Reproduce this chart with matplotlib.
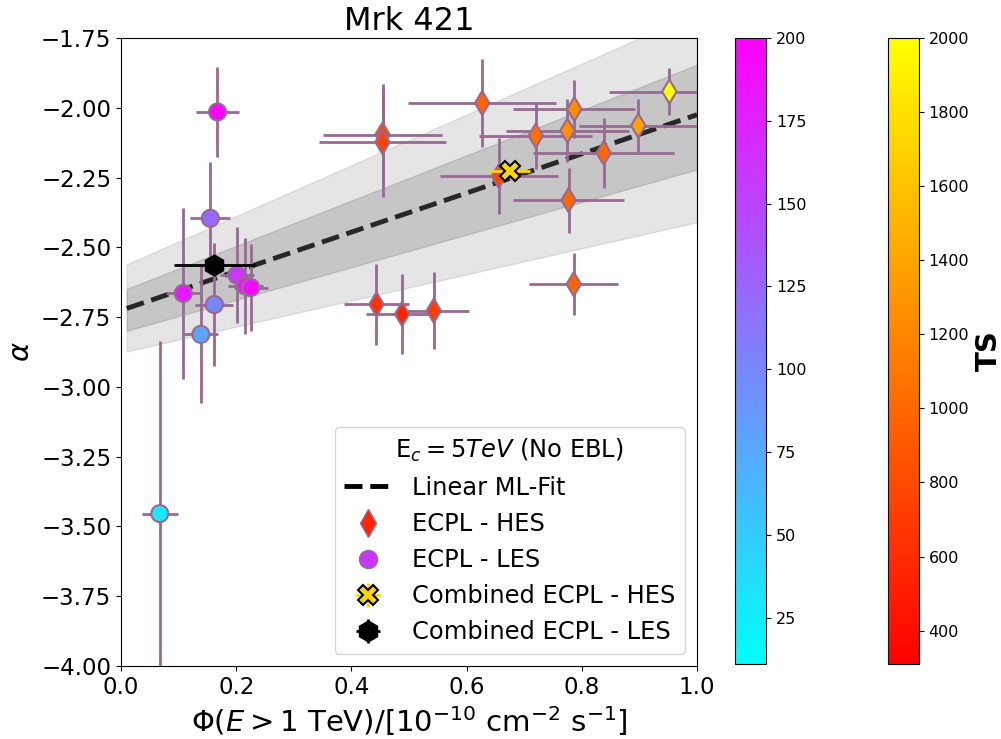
import numpy as np
import matplotlib
matplotlib.use("Agg")
import matplotlib.pyplot as plt
from matplotlib.colors import Normalize
from matplotlib.lines import Line2D

# high energy selection (ECPL - HES)
hes_flux = [0.488, 0.4435, 0.543, 0.454, 0.454, 0.627, 0.787, 0.952, 0.898, 0.775, 0.720, 0.838, 0.656, 0.777, 0.786]
hes_flux_err = [0.063, 0.057, 0.061, 0.104, 0.110, 0.128, 0.106, 0.104, 0.103, 0.107, 0.098, 0.122, 0.103, 0.096, 0.077]
hes_alpha = [-2.739, -2.704, -2.727, -2.096, -2.123, -1.983, -2.005, -1.942, -2.064, -2.082, -2.100, -2.162, -2.245, -2.331, -2.632]
hes_alpha_err = [0.142, 0.146, 0.138, 0.180, 0.195, 0.158, 0.105, 0.084, 0.094, 0.114, 0.118, 0.125, 0.137, 0.116, 0.110]
hes_ts = [560, 640, 700, 760, 740, 970, 1230, 2000, 1380, 1250, 1050, 1000, 780, 1000, 980]

# low energy selection (ECPL - LES)
les_flux = [0.201, 0.1675, 0.155, 0.2157, 0.2255, 0.108, 0.162, 0.1386, 0.0673]
les_flux_err = [0.030, 0.037, 0.035, 0.030, 0.030, 0.030, 0.033, 0.030, 0.031]
les_alpha = [-2.599, -2.015, -2.396, -2.638, -2.644, -2.665, -2.705, -2.812, -3.454]
les_alpha_err = [0.172, 0.162, 0.200, 0.172, 0.155, 0.305, 0.220, 0.246, 0.620]
les_ts = [160, 198, 122, 182, 192, 182, 100, 78, 30]

# combined fits: flux, alpha, flux err, alpha err
comb_hes = (0.675, -2.225, 0.035, 0.02)
comb_les = (0.162, -2.564, 0.070, 0.02)

# linear ML fit and its 1/2 sigma bands
fit_x = [0.01, 1.0]
fit_y = [-2.719, -2.025]
band1_lo = [-2.799, -2.221]
band1_hi = [-2.649, -1.846]
band2_lo = [-2.873, -2.410]
band2_hi = [-2.561, -1.660]

err_col = "#976a93"

fig = plt.figure(figsize=(10.01, 7.39), dpi=100)
ax = fig.add_axes([0.1209, 0.0988, 0.5754, 0.8498])
cax1 = fig.add_axes([0.7343, 0.1015, 0.0313, 0.8471])
cax2 = fig.add_axes([0.8868, 0.1015, 0.0313, 0.8471])

ax.fill_between(fit_x, band2_lo, band2_hi, color="grey", alpha=0.2)
ax.fill_between(fit_x, band1_lo, band1_hi, color="grey", alpha=0.3)
ax.plot(fit_x, fit_y, "--", color="k", alpha=0.8, lw=3.5)

norm_hes = Normalize(310, 2000)
norm_les = Normalize(11, 200)

ax.errorbar(les_flux, les_alpha, xerr=les_flux_err, yerr=les_alpha_err, fmt="none",
            ecolor=err_col, elinewidth=2, zorder=3)
sc_les = ax.scatter(les_flux, les_alpha, c=les_ts, cmap="cool", norm=norm_les, marker="o",
                    s=150, edgecolors=err_col, linewidths=1.5, zorder=4)

ax.errorbar(hes_flux, hes_alpha, xerr=hes_flux_err, yerr=hes_alpha_err, fmt="none",
            ecolor=err_col, elinewidth=2, zorder=3)
sc_hes = ax.scatter(hes_flux, hes_alpha, c=hes_ts, cmap="autumn", norm=norm_hes, marker="d",
                    s=150, edgecolors=err_col, linewidths=1.5, zorder=4)

ax.errorbar(comb_hes[0], comb_hes[1], xerr=comb_hes[2], yerr=comb_hes[3], fmt="X",
            color="gold", mec="k", mew=1.5, ms=15, ecolor="gold", elinewidth=2, zorder=5)
ax.errorbar(comb_les[0], comb_les[1], xerr=comb_les[2], yerr=comb_les[3], fmt="h",
            color="k", mec="k", ms=15, ecolor="k", elinewidth=2, zorder=5)

ax.set_xlim(0.0, 1.0)
ax.set_ylim(-4.0, -1.75)
ax.set_yticks(np.arange(-4.0, -1.74, 0.25))
ax.tick_params(labelsize=16.5)
ax.set_xlabel(r"$\Phi(E > 1$ TeV$)/[10^{-10}$ cm$^{-2}$ s$^{-1}]$", fontsize=21)
ax.set_ylabel(r"$\alpha$", fontsize=21)
ax.set_title("Mrk 421", fontsize=23)

handles = [
    Line2D([], [], ls="--", color="k", lw=3.5),
    Line2D([], [], ls="none", marker="d", ms=14, color=sc_hes.cmap(norm_hes(hes_ts[0])), mec=err_col),
    Line2D([], [], ls="none", marker="o", ms=13, color=sc_les.cmap(norm_les(les_ts[0])), mec=err_col),
    ax.errorbar([], [], xerr=[], yerr=[], fmt="X", color="gold", mec="k", mew=1.5, ms=15,
                ecolor="gold", elinewidth=2),
    ax.errorbar([], [], xerr=[], yerr=[], fmt="h", color="k", ms=15, ecolor="k", elinewidth=2),
]
labels = ["Linear ML-Fit", "ECPL - HES", "ECPL - LES", "Combined ECPL - HES", "Combined ECPL - LES"]
ax.legend(handles, labels, loc="lower right", fontsize=17.4, title=r"E$_c = 5 TeV$ (No EBL)",
          title_fontsize=17.4)

cb1 = fig.colorbar(sc_les, cax=cax1)
cb1.set_ticks([25, 50, 75, 100, 125, 150, 175, 200])
cb1.ax.tick_params(labelsize=11.5)
cb2 = fig.colorbar(sc_hes, cax=cax2)
cb2.set_ticks(np.arange(400, 2001, 200))
cb2.ax.tick_params(labelsize=11.5)
cb2.set_label("TS", fontsize=21, fontweight="bold")

fig.savefig("out.png", dpi=100)
